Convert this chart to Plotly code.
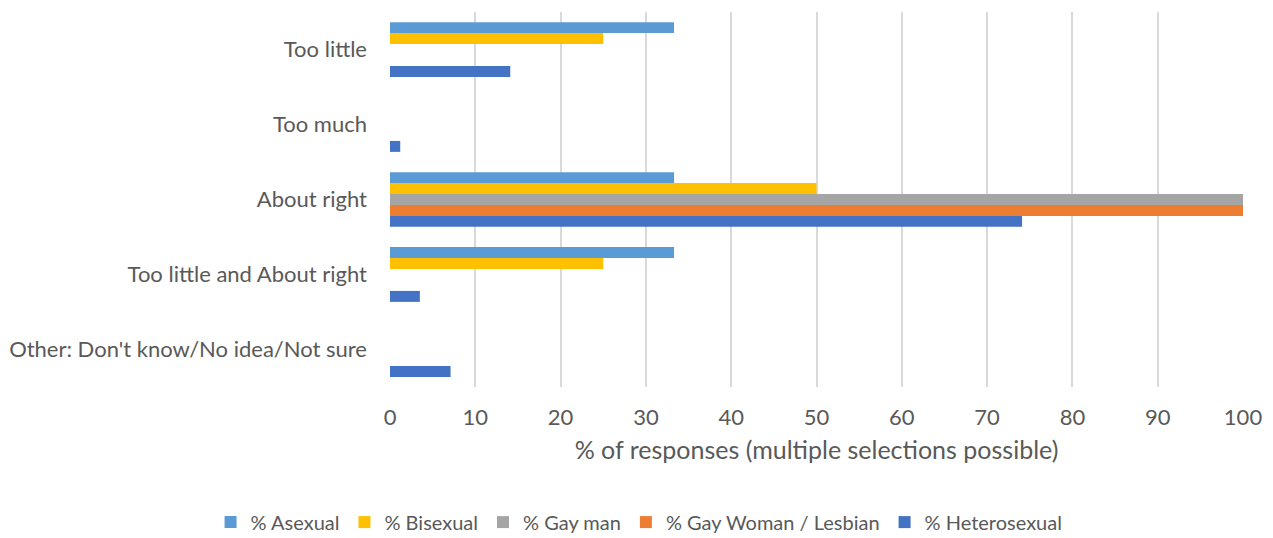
import plotly.graph_objects as go

categories = ["Too little", "Too much", "About right", "Too little and About right",
              "Other: Don't know/No idea/Not sure"]
series_names = ["% Asexual", "% Bisexual", "% Gay man", "% Gay Woman / Lesbian", "% Heterosexual"]
asexual = [33.3, 0, 33.3, 33.3, 0]
bisexual = [25, 0, 50, 25, 0]
gay_man = [0, 0, 100, 0, 0]
gay_woman = [0, 0, 100, 0, 0]
heterosexual = [14.1, 1.2, 74.1, 3.5, 7.1]
x_ticks = [0, 10, 20, 30, 40, 50, 60, 70, 80, 90, 100]
x_title = "% of responses (multiple selections possible)"

colors = ["#5B9BD5", "#FFC000", "#A5A5A5", "#ED7D31", "#4472C4"]
values = [asexual, bisexual, gay_man, gay_woman, heterosexual]

FONT = "Lato, Calibri, Carlito, sans-serif"
TXT = "#595959"

fig = go.Figure()
for name, vals, col in zip(series_names, values, colors):
    fig.add_trace(go.Bar(y=categories, x=vals, name=name, orientation="h",
                         marker=dict(color=col, line=dict(width=0))))

# page body has an 8px margin, so the figure is offset inside the window
fig.update_layout(
    width=1265, height=530,
    margin=dict(l=382, r=30, t=4, b=151),
    barmode="group", bargap=0.27, bargroupgap=0,
    plot_bgcolor="white", paper_bgcolor="white",
    font=dict(family=FONT, size=22, color=TXT),
    xaxis=dict(range=[0, 100], tickvals=x_ticks, showgrid=True, gridcolor="#D9D9D9",
               gridwidth=1.5, zeroline=False, showline=False, ticks="",
               ticklabelstandoff=15, automargin=False,
               title=dict(text=x_title, font=dict(family=FONT, size=25, color=TXT), standoff=12),
               tickfont=dict(family=FONT, size=22, color=TXT)),
    yaxis=dict(autorange="reversed", showgrid=False, zeroline=False, showline=False,
               ticks="", ticklabelstandoff=22, automargin=False,
               tickfont=dict(family=FONT, size=22, color=TXT)),
    legend=dict(orientation="h", xref="paper", x=0.292, xanchor="center",
                yref="container", y=0.03, yanchor="middle",
                font=dict(family=FONT, size=20, color=TXT),
                itemwidth=30, traceorder="normal"),
    showlegend=True,
)
fig.write_html("out.html")
